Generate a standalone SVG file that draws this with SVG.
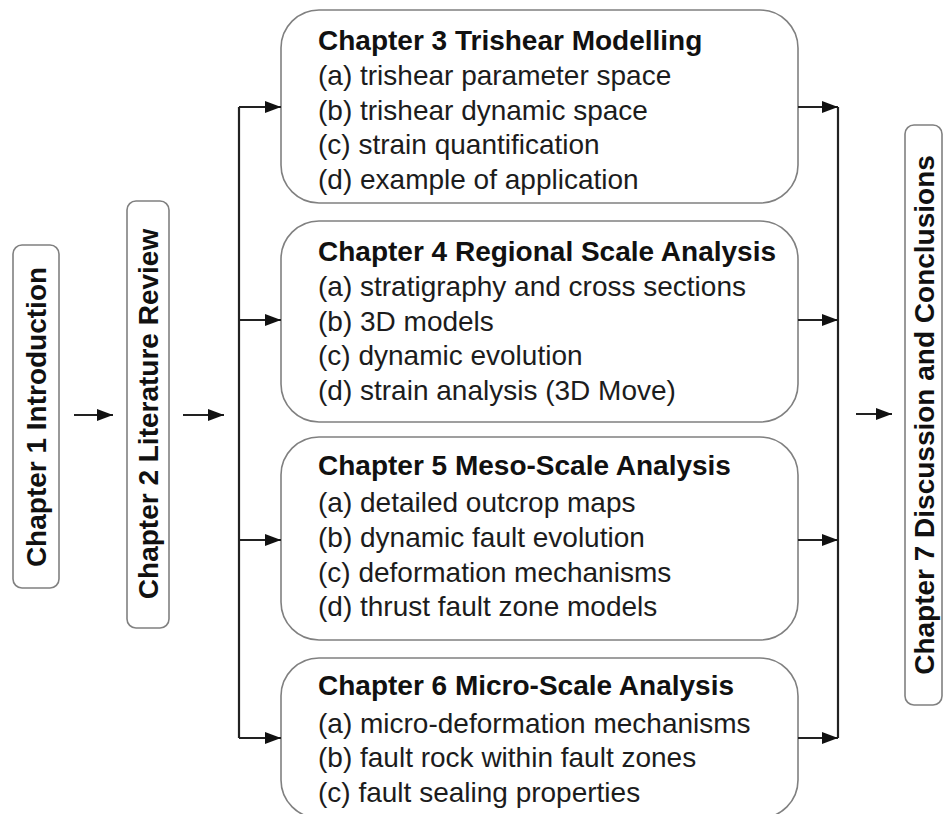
<svg xmlns="http://www.w3.org/2000/svg" width="943" height="814" viewBox="0 0 943 814">
<style>
.box{fill:#fff;stroke:#808080;stroke-width:1.6}
.t{font-family:"Liberation Sans",Arial,sans-serif;font-size:28px;fill:#1c1c1c}
.b{font-weight:bold;fill:#111}
.c{fill:none;stroke:#222;stroke-width:2.2}
</style>
<defs>
<marker id="ah" viewBox="0 0 16 12" refX="16" refY="6" markerWidth="16" markerHeight="12" markerUnits="userSpaceOnUse" orient="auto">
<path d="M0,0 L16,6 L0,12 Z" fill="#111"/>
</marker>
</defs>
<rect width="943" height="814" fill="#fff"/>

<g id="ch1">
<rect class="box" x="13" y="245" width="46" height="343" rx="9"/>
<text class="t b" transform="translate(46,417) rotate(-90)" text-anchor="middle">Chapter 1 Introduction</text>
</g>
<g id="ch2">
<rect class="box" x="127" y="201" width="42" height="427" rx="9"/>
<text class="t b" transform="translate(158,414) rotate(-90)" text-anchor="middle">Chapter 2 Literature Review</text>
</g>
<g id="ch3">
<rect class="box" x="281" y="10" width="517" height="193" rx="38"/>
<text class="t b" x="318" y="50">Chapter 3 Trishear Modelling</text>
<text class="t" x="318" y="85">(a) trishear parameter space</text>
<text class="t" x="318" y="120">(b) trishear dynamic space</text>
<text class="t" x="318" y="154">(c) strain quantification</text>
<text class="t" x="318" y="189">(d) example of application</text>
</g>
<g id="ch4">
<rect class="box" x="281" y="221" width="517" height="201" rx="38"/>
<text class="t b" x="318" y="261">Chapter 4 Regional Scale Analysis</text>
<text class="t" x="318" y="296">(a) stratigraphy and cross sections</text>
<text class="t" x="318" y="331">(b) 3D models</text>
<text class="t" x="318" y="365">(c) dynamic evolution</text>
<text class="t" x="318" y="400">(d) strain analysis (3D Move)</text>
</g>
<g id="ch5">
<rect class="box" x="281" y="437" width="517" height="203" rx="38"/>
<text class="t b" x="318" y="475">Chapter 5 Meso-Scale Analysis</text>
<text class="t" x="318" y="512">(a) detailed outcrop maps</text>
<text class="t" x="318" y="547">(b) dynamic fault evolution</text>
<text class="t" x="318" y="582">(c) deformation mechanisms</text>
<text class="t" x="318" y="616">(d) thrust fault zone models</text>
</g>
<g id="ch6">
<rect class="box" x="281" y="658" width="517" height="160" rx="38"/>
<text class="t b" x="318" y="695">Chapter 6 Micro-Scale Analysis</text>
<text class="t" x="318" y="733">(a) micro-deformation mechanisms</text>
<text class="t" x="318" y="767">(b) fault rock within fault zones</text>
<text class="t" x="318" y="802">(c) fault sealing properties</text>
</g>
<g id="ch7">
<rect class="box" x="905" y="125" width="37" height="580" rx="9"/>
<text class="t b" transform="translate(934,415) rotate(-90)" text-anchor="middle">Chapter 7 Discussion and Conclusions</text>
</g>

<g id="connectors">
<path class="c" d="M74,415 H113" marker-end="url(#ah)"/>
<path class="c" d="M183,415 H224" marker-end="url(#ah)"/>
<path class="c" d="M239,107 V738"/>
<path class="c" d="M239,107 H281" marker-end="url(#ah)"/>
<path class="c" d="M239,320 H281" marker-end="url(#ah)"/>
<path class="c" d="M239,540 H281" marker-end="url(#ah)"/>
<path class="c" d="M239,738 H281" marker-end="url(#ah)"/>
<path class="c" d="M838,107 V738"/>
<path class="c" d="M798,107 H838" marker-end="url(#ah)"/>
<path class="c" d="M798,320 H838" marker-end="url(#ah)"/>
<path class="c" d="M798,540 H838" marker-end="url(#ah)"/>
<path class="c" d="M798,738 H838" marker-end="url(#ah)"/>
<path class="c" d="M856,414 H892" marker-end="url(#ah)"/>
</g>
</svg>
